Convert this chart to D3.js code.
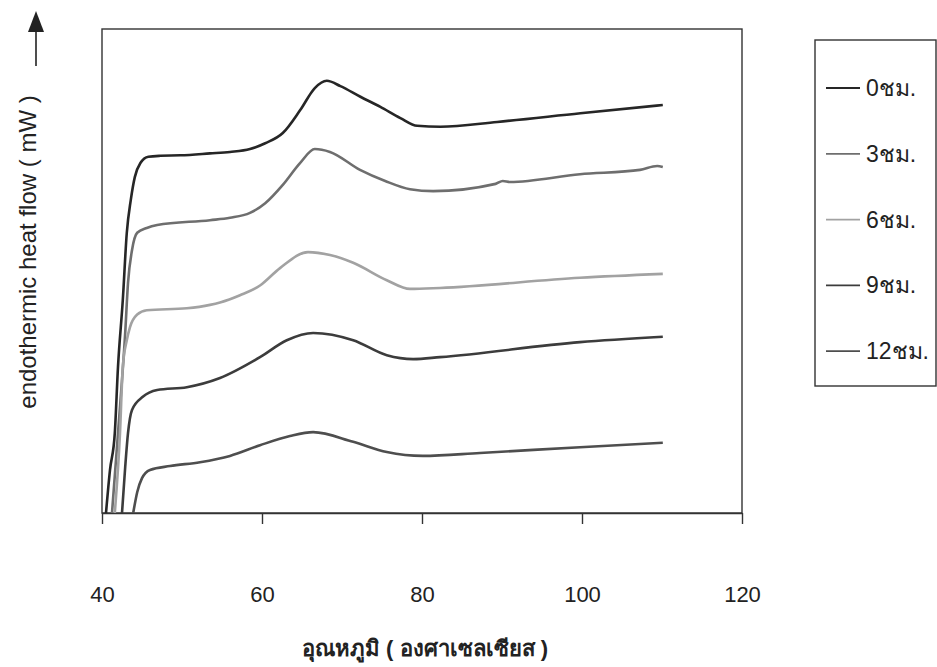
<!DOCTYPE html>
<html>
<meta charset="utf-8">
<script src="https://cdn.jsdelivr.net/npm/d3@7/dist/d3.min.js" charset="utf-8"></script>
<title>DSC curves</title>
<style>
body { margin: 0; background: #fff; }
text { font-family: Arial, "Liberation Sans", sans-serif; fill: #222; }
</style>
<body>
<script type="text/javascript">

// temperatures (deg C) and heat flow (arbitrary units)
var temp0  = [40.5,41.0,41.6,42.0,42.6,43.1,43.6,44.1,44.8,45.8,47.3,49.8,53.5,56.0,58.5,60.4,62.6,64.8,66.6,68.1,69.8,72.3,74.8,77.3,79.4,82.3,89.4,99.8,110.1];
var flow0  = [0,8.9,16.5,30.2,44.0,57.9,64.7,69.4,72.3,73.6,73.8,73.9,74.3,74.6,75.2,76.4,78.5,83.3,87.8,89.3,88.2,86.0,83.9,81.6,80.0,79.8,80.8,82.6,84.3];

var temp3  = [41.25,42.0,42.9,43.25,43.75,44.4,45.6,46.9,53.5,56.0,58.5,60.4,62.6,64.75,66.6,68.5,72.25,75.4,78.5,81.4,89.2,90.1,91.0,99.75,107.25,109.4,110.1];
var flow3  = [0,16.5,37.2,47.5,54.3,57.9,58.9,59.5,60.5,61.0,62.0,64.0,67.8,72.3,75.2,74.6,70.9,68.6,66.9,66.5,68.0,68.6,68.4,70.0,70.9,71.7,71.5];

var temp6  = [41.6,42.25,42.6,43.1,43.5,44.4,45.6,50.6,53.5,54.75,57.25,59.75,62.25,65.75,68.5,71.4,75.6,78.5,82.25,99.75,110.1];
var flow6  = [0,16.5,30.2,35.7,38.4,41.0,41.9,42.3,43.0,43.5,45.0,47.0,50.6,53.9,53.3,51.7,48.1,46.3,46.5,48.6,49.4];

var temp9  = [42.5,42.9,43.25,43.75,45.1,46.9,50.6,54.75,59.75,63.1,66.4,71.4,75.6,78.9,82.25,99.75,110.1];
var flow9  = [0,9.5,16.5,21.3,24.0,25.4,26.0,27.9,32.2,35.7,37.2,35.7,32.6,31.8,32.2,35.3,36.4];

var temp12 = [43.9,44.4,45.0,46.0,48.5,52.25,56.0,59.75,63.5,66.4,71.4,75.6,80.1,87.25,99.75,110.1];
var flow12 = [0,4.3,7.2,8.9,9.7,10.5,11.8,14.0,15.9,16.7,14.7,12.6,11.8,12.4,13.6,14.5];

var seriesNames  = ["0ชม.", "3ชม.", "6ชม.", "9ชม.", "12ชม."];
var seriesColors = ["#262626", "#6e6e6e", "#a2a2a2", "#3c3c3c", "#4e4e4e"];
var xTicks = [40, 60, 80, 100, 120];

var size = { width : 937, height : 667 };
var plot = { left : 102, top : 29, right : 742, bottom : 513 };

var series = [
    {temps: temp0,  flows: flow0},
    {temps: temp3,  flows: flow3},
    {temps: temp6,  flows: flow6},
    {temps: temp9,  flows: flow9},
    {temps: temp12, flows: flow12}
].map(function(s, i){
    return {
        id : seriesNames[i],
        color : seriesColors[i],
        values : s.temps.map(function(t, j){ return {t: t, v: s.flows[j]}; })
    };
});

var xScale = d3.scaleLinear()
    .domain([40, 120])
    .range([plot.left, plot.right]);
var yScale = d3.scaleLinear()
    .domain([0, 100])
    .range([plot.bottom, plot.top]);

var line = d3.line()
    .curve(d3.curveMonotoneX)
    .x(function(d) { return xScale(d.t); })
    .y(function(d) { return yScale(d.v); });

var svg = d3.select("body")
    .append("svg")
    .attr("width", size.width)
    .attr("height", size.height);

// plot frame
svg.append("rect")
    .attr("x", plot.left)
    .attr("y", plot.top)
    .attr("width", plot.right - plot.left)
    .attr("height", plot.bottom - plot.top)
    .style("fill", "none")
    .style("stroke", "#333")
    .style("stroke-width", 1.4);

// x axis, labels dropped well below the frame
var xAxis = svg.append("g")
    .attr("class", "axisX")
    .attr("transform", "translate(0," + plot.bottom + ")")
    .call(d3.axisBottom(xScale).tickValues(xTicks).tickSize(11).tickSizeOuter(0));
xAxis.select(".domain").style("stroke", "#333").style("stroke-width", 1.4);
xAxis.selectAll("line").style("stroke", "#333").style("stroke-width", 1.4);
xAxis.selectAll("text")
    .attr("y", 82)
    .attr("dy", "0.32em")
    .style("font-size", "22px")
    .style("font-family", "Arial, 'Liberation Sans', sans-serif")
    .style("fill", "#222");

// curves
svg.selectAll(".graph")
    .data(series)
    .enter()
    .append("path")
    .attr("class", "graph")
    .attr("d", function(d) { return line(d.values); })
    .style("stroke", function(d) { return d.color; })
    .style("stroke-width", 2.6)
    .style("fill", "none");

// axis titles
svg.append("text")
    .attr("x", 425)
    .attr("y", 648)
    .attr("text-anchor", "middle")
    .attr("dy", "0.35em")
    .style("font-size", "22px")
    .style("font-weight", "bold")
    .text("อุณหภูมิ ( องศาเซลเซียส )");

svg.append("text")
    .attr("transform", "translate(28,252) rotate(-90)")
    .attr("text-anchor", "middle")
    .attr("dy", "0.35em")
    .style("font-size", "24px")
    .text("endothermic heat flow ( mW )");

// arrow up
svg.append("line")
    .attr("x1", 36).attr("x2", 36)
    .attr("y1", 66).attr("y2", 28)
    .style("stroke", "#222")
    .style("stroke-width", 1.6);
svg.append("path")
    .attr("d", "M28,32 L44,32 L36,11 Z")
    .style("fill", "#222");

// legend
var legend = svg.append("g").attr("class", "legend");
legend.append("rect")
    .attr("x", 815).attr("y", 40)
    .attr("width", 121).attr("height", 346)
    .style("fill", "none")
    .style("stroke", "#333")
    .style("stroke-width", 1.4);

var item = legend.selectAll(".item")
    .data(series)
    .enter()
    .append("g")
    .attr("class", "item")
    .attr("transform", function(d, i) { return "translate(0," + (88 + i * 65.8) + ")"; });
item.append("line")
    .attr("x1", 826).attr("x2", 860)
    .style("stroke", function(d) { return d.color; })
    .style("stroke-width", 1.8);
item.append("text")
    .attr("x", 866)
    .attr("dy", "0.35em")
    .style("font-size", "23px")
    .text(function(d) { return d.id; });

</script>
</body>
</html>
